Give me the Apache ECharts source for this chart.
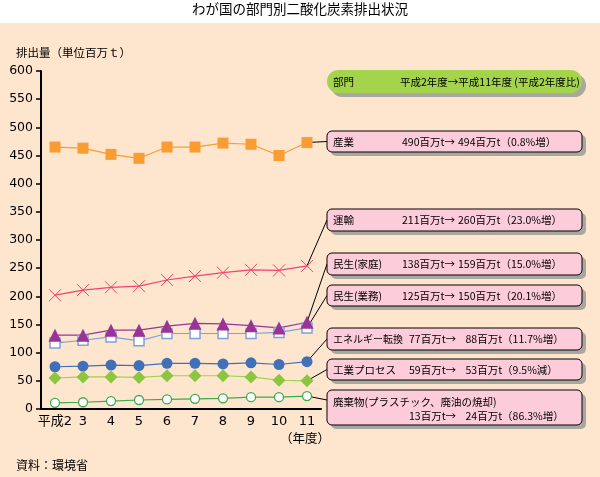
<!DOCTYPE html>
<html><head><meta charset="utf-8">
<script src="https://cdn.jsdelivr.net/npm/echarts@6/dist/echarts.min.js"></script>
<style>html,body{margin:0;padding:0;background:#fff}#c{width:600px;height:477px}</style>
</head><body><div id="c"></div>
<script>
// ---- data ----
const years = ['平成2','3','4','5','6','7','8','9','10','11'];
const yTicks = [0,50,100,150,200,250,300,350,400,450,500,550,600];
const industry   = [465,463,452,445,465,465,472,470,450,473];
const transport  = [202,211,216,218,229,236,242,247,246,254];
const household  = [131,131,140,140,147,152,151,148,144,154];
const business   = [117,122,128,121,134,134,134,134,136,144];
const energy     = [75,76,78,77,81,81,80,82,79,84];
const process    = [55,57,57,56,59,59,59,57,51,50];
const waste      = [11,12,14,16,17,18,19,21,21,23];

const boxNames = ['産業','運輸','民生(家庭)','民生(業務)','エネルギー転換','工業プロセス','廃棄物(プラスチック、廃油の焼却)'];
const fromVals = [490,211,138,125,77,59,13];
const toVals   = [494,260,159,150,88,53,24];
const changes  = ['0.8%増','23.0%増','15.0%増','20.1%増','11.7%増','9.5%減','86.3%増'];

const titleText = 'わが国の部門別二酸化炭素排出状況';
const yName = '排出量（単位百万ｔ）';
const xName = '（年度）';
const sourceText = '資料：環境省';
const headerLeft = '部門';
const headerRight = '平成2年度→平成11年度 (平成2年度比)';

// ---- chart ----
const CJK = "'Noto Sans CJK JP', sans-serif";
const NUM = "'DejaVu Sans', 'Noto Sans CJK JP', sans-serif";
const chart = echarts.init(document.getElementById('c'), null, {renderer:'canvas'});

const xPath = 'path://M0,0L10,10M10,0L0,10';
function mk(name, data, color, symbol, size, extra) {
  return Object.assign({
    name, type:'line', data, symbol, symbolSize:size,
    lineStyle:{color, width:1.2},
    itemStyle:{color},
    emphasis:{disabled:true}
  }, extra||{});
}
const seriesList = [
  mk('産業', industry, '#F99D32', 'rect', 11),
  mk('運輸', transport, '#F0446B', xPath, 12, {itemStyle:{color:'none', borderColor:'#F0446B', borderWidth:1}}),
  mk('民生(業務)', business, '#7FA1D6', 'rect', 10, {itemStyle:{color:'#ffffff', borderColor:'#7FA1D6', borderWidth:1.5}}),
  mk('民生(家庭)', household, '#993399', 'triangle', 13),
  mk('エネルギー転換', energy, '#4070B8', 'circle', 11),
  mk('工業プロセス', process, '#8CC63F', 'diamond', 13, {lineStyle:{color:'#9FD24F', width:1.2}}),
  mk('廃棄物', waste, '#3DAA4C', 'circle', 9, {itemStyle:{color:'#ffffff', borderColor:'#3DAA4C', borderWidth:1.3}})
];
// map box index -> series index
const boxSeries = [0,1,3,2,4,5,6];

chart.setOption({
  animation:false,
  backgroundColor:'#FDE5CE',
  grid:{left:41, top:71, width:280, height:338},
  xAxis:{type:'category', data:years, boundaryGap:true,
    axisLine:{lineStyle:{color:'#000', width:2}},
    axisTick:{show:false},
    axisLabel:{color:'#000', fontSize:13, fontFamily:NUM, margin:6, interval:0}},
  yAxis:{type:'value', min:yTicks[0], max:yTicks[yTicks.length-1], interval:yTicks[1]-yTicks[0],
    splitLine:{show:false},
    axisLine:{show:true, lineStyle:{color:'#000', width:2}},
    axisTick:{show:true, length:5, lineStyle:{color:'#000', width:1.5}},
    axisLabel:{color:'#000', fontSize:12.5, fontFamily:NUM, margin:8}},
  series:seriesList
});

// ---- annotations ----
const boxX = 327, boxW = 255;
const boxTops = [131,209,253,285,328,359,390];
const boxHs   = [21,22,22,21,22,21,35];
const g = [];
g.push({type:'rect', shape:{x:0,y:0,width:600,height:23}, style:{fill:'#ffffff'}, z:1});
g.push({type:'text', x:300, y:9, style:{text:titleText, font:'13.5px '+CJK, fill:'#000', align:'center', verticalAlign:'middle'}, z:2});
g.push({type:'text', x:16, y:53, style:{text:yName, font:'11.5px '+CJK, fill:'#000', align:'left', verticalAlign:'middle'}, z:2});
g.push({type:'text', x:305, y:438, style:{text:xName, font:'12.5px '+CJK, fill:'#000', align:'center', verticalAlign:'middle'}, z:2});
g.push({type:'text', x:16, y:465, style:{text:sourceText, font:'12px '+CJK, fill:'#000', align:'left', verticalAlign:'middle'}, z:2});
g.push({type:'rect', shape:{x:boxX+4,y:74,width:boxW,height:23,r:11.5}, style:{fill:'#A8A8A0'}, z:3});
g.push({type:'rect', shape:{x:boxX,y:70,width:boxW,height:23,r:11.5}, style:{fill:'#A3D44B'}, z:4});
g.push({type:'text', x:333, y:82, style:{text:headerLeft, font:'10.5px '+CJK, fill:'#000', verticalAlign:'middle'}, z:5});
g.push({type:'text', x:400, y:82, style:{text:headerRight, font:'10.5px '+CJK, fill:'#000', verticalAlign:'middle'}, z:5});

const F = '10.5px '+CJK;
boxNames.forEach((nm,i)=>{
  const t = boxTops[i], h = boxHs[i];
  g.push({type:'rect', shape:{x:boxX+4,y:t+4,width:boxW,height:h,r:5}, style:{fill:'#A8A8A0'}, z:3});
  g.push({type:'rect', shape:{x:boxX,y:t,width:boxW,height:h,r:5}, style:{fill:'#FCCCDA', stroke:'#000', lineWidth:1}, z:4});
  const nd = String(fromVals[i]).length, td = String(toVals[i]).length;
  const left = fromVals[i]+'百万t→';
  const right = toVals[i]+'百万t（'+changes[i]+'）';
  const lineY = (i===6) ? t+26 : t+h/2+0.5;
  const nameFont = (i===4) ? '10px '+CJK : F;
  g.push({type:'text', x:333, y:(i===6) ? t+12 : lineY, style:{text:nm, font:nameFont, fill:'#000', verticalAlign:'middle'}, z:5});
  g.push({type:'text', x:402+(3-nd)*7, y:lineY, style:{text:left, font:F, fill:'#000', verticalAlign:'middle'}, z:5});
  g.push({type:'text', x:458+(3-td)*7.5, y:lineY, style:{text:right, font:F, fill:'#000', verticalAlign:'middle'}, z:5});
  const si = boxSeries[i];
  const d = seriesList[si].data;
  const p = chart.convertToPixel({seriesIndex:si}, [d.length-1, d[d.length-1]]);
  const ty = (i===6) ? t+10 : t+h/2;
  g.push({type:'line', shape:{x1:p[0], y1:p[1], x2:boxX, y2:ty}, style:{stroke:'#000', lineWidth:1}, z:1});
});
chart.setOption({graphic:g});
</script></body></html>
